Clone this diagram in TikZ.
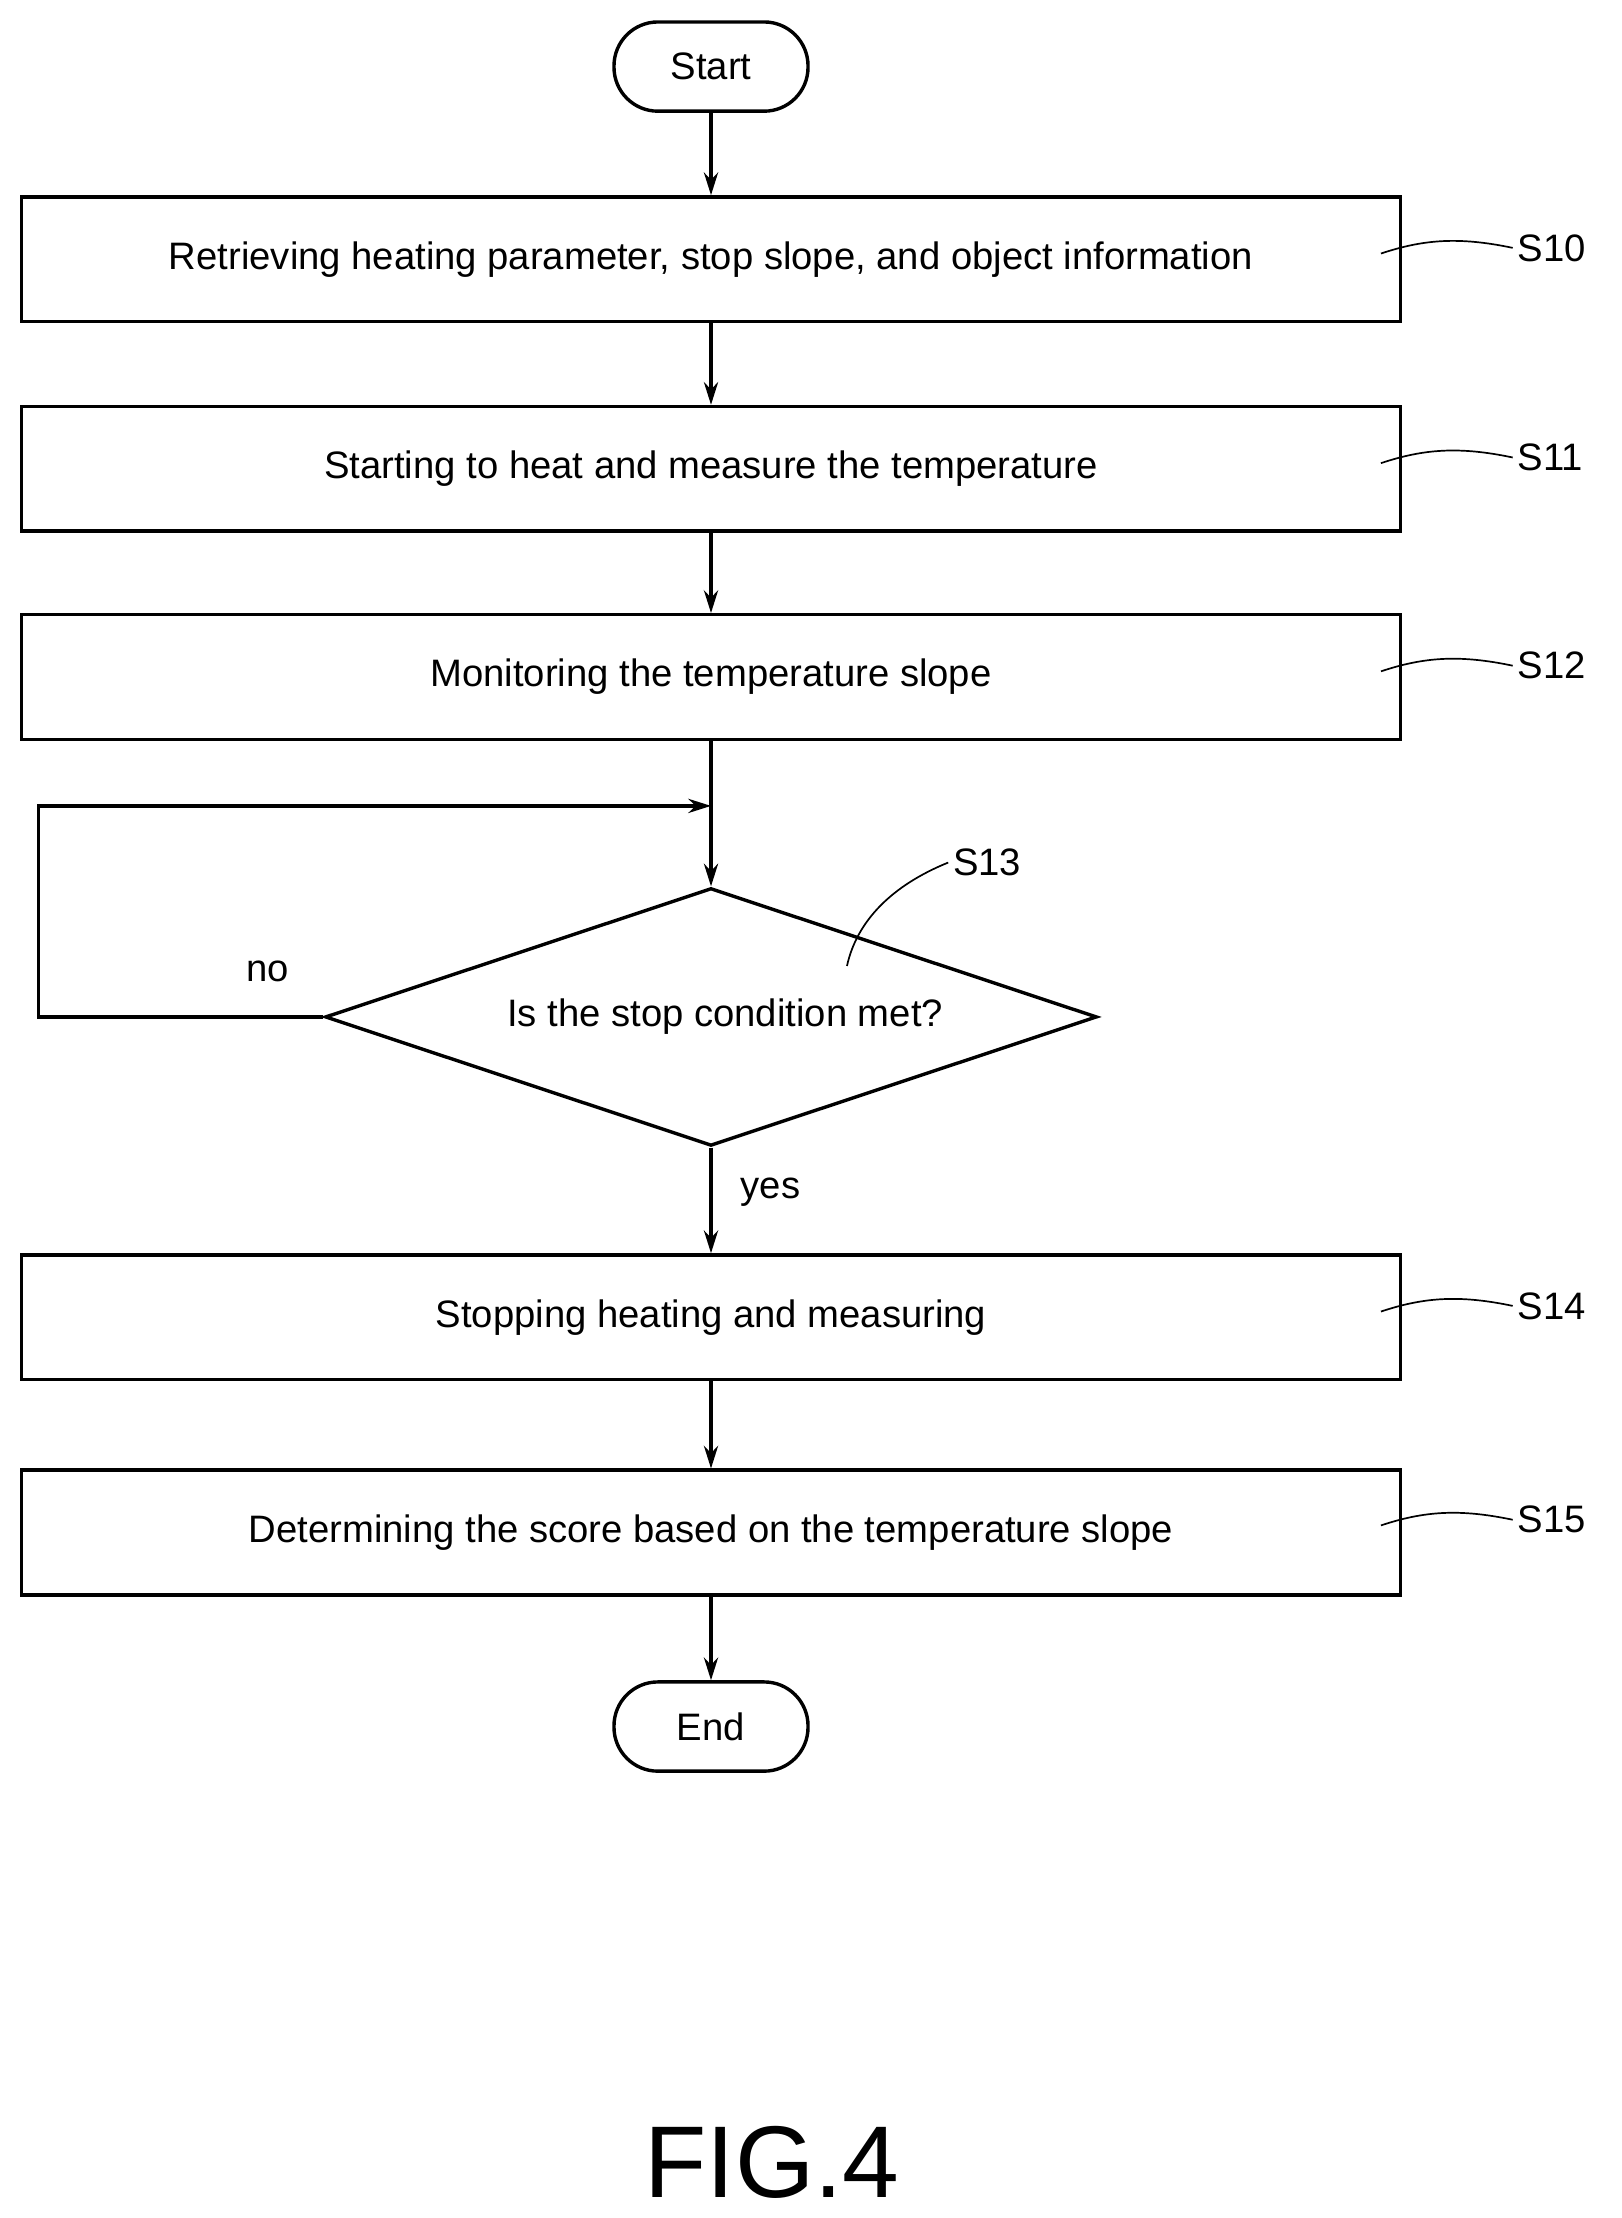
\documentclass[tikz,border=0pt]{standalone}
\usepackage{fontspec}
\setmainfont{Liberation Sans}
\usetikzlibrary{shapes.geometric,arrows.meta}
\begin{document}
\begin{tikzpicture}[x=1pt,y=-1pt,
  box/.style={draw,line width=2.4pt,minimum width=974pt,minimum height=88pt,font=\fontsize{27}{32}\selectfont,inner sep=0pt},
  pill/.style={draw,line width=2.4pt,rounded corners=31pt,minimum width=137pt,minimum height=63pt,font=\fontsize{27}{32}\selectfont},
  lab/.style={font=\fontsize{27}{32}\selectfont},
  arr/.style={line width=2.4pt,-{Stealth[length=16pt,width=10pt]}},
  lead/.style={line width=1.2pt}]
\useasboundingbox (0,0) rectangle (1145,1566);
\node[pill] (start) at (502,47) {Start};
\node[box] (s10) at (502,183) {Retrieving heating parameter, stop slope, and object information};
\node[box] (s11) at (502,331) {Starting to heat and measure the temperature};
\node[box] (s12) at (502,478) {Monitoring the temperature slope};
\node[draw,diamond,line width=2.4pt,minimum width=545pt,minimum height=182pt,inner sep=0pt,aspect=3,font=\fontsize{27}{32}\selectfont] (s13) at (502,718) {};
\node[lab] (s13t) at (512,718) {Is the stop condition met?};
\node[box] (s14) at (502,930) {Stopping heating and measuring};
\node[box] (s15) at (502,1082) {Determining the score based on the temperature slope};
\node[pill] (end) at (502,1219) {End};
\coordinate (j) at (502,569);
\coordinate (l1) at (27,718);
\coordinate (l2) at (27,569);
\draw[arr] (start) -- (s10);
\draw[arr] (s10) -- (s11);
\draw[arr] (s11) -- (s12);
\draw[arr] (s12.south) -- (s13.north);
\draw[arr] (s13.west) -- (l1) -- (l2) -- (j);
\draw[arr] (s13.south) -- (s14);
\draw[arr] (s14) -- (s15);
\draw[arr] (s15) -- (end);
\node[lab] (no) at (189,686) {no};
\node[lab] (yes) at (544,842) {yes};
\foreach \n/\y in {10/175,11/323,12/470,14/922,15/1073}{
  \node[lab,anchor=west] (L\n) at (1068,\y) {S\n};
  \draw[lead] (975,\y+4) .. controls (1005,\y-6) and (1030,\y-8) .. (L\n.west);
}
\node[lab] (L13) at (697,609) {S13};
\draw[lead] (598,682) .. controls (605,650) and (630,625) .. (L13.west);
\node[font=\fontsize{72}{80}\selectfont] (fig) at (545,1527) {FIG.4};
\end{tikzpicture}
\end{document}
